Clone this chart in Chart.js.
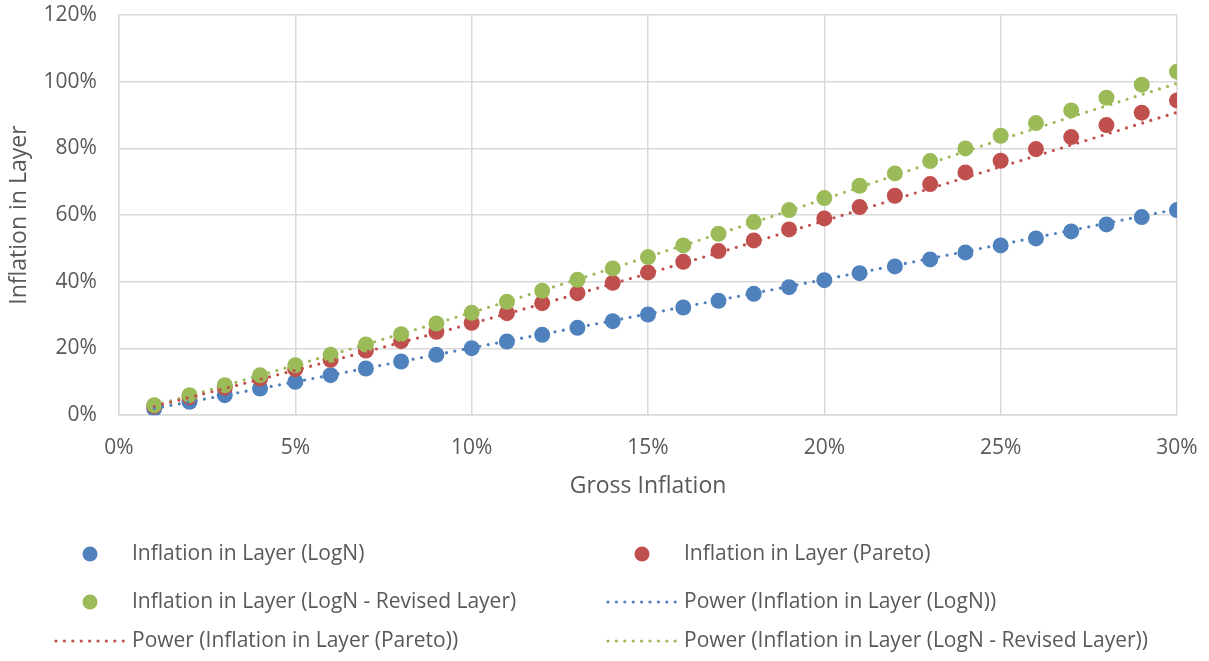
<!DOCTYPE html>
<html>
<head>
<meta charset="utf-8">
<script src="https://cdn.jsdelivr.net/npm/chart.js@4"></script>
<style>
  html, body { margin: 0; padding: 0; background: #fff; }
  #wrap { width: 1209px; height: 661px; position: relative; }
</style>
</head>
<body>
<div id="wrap"><canvas id="myChart"></canvas></div>
<script>
// gross inflation (%) for the dots
var grossX = [1,2,3,4,5,6,7,8,9,10,11,12,13,14,15,16,17,18,19,20,21,22,23,24,25,26,27,28,29,30];

var logN = [2.0,4.0,6.0,8.0,10.0,12.0,14.0,16.1,18.1,20.1,22.1,24.1,26.2,28.2,30.2,
            32.3,34.3,36.4,38.4,40.5,42.6,44.6,46.7,48.8,50.9,53.0,55.1,57.2,59.4,61.5];
var pareto = [2.7,5.4,8.2,11.0,13.8,16.6,19.4,22.2,25.0,27.7,30.6,33.6,36.6,39.7,42.8,
              46.0,49.2,52.4,55.7,59.0,62.4,65.8,69.3,72.8,76.3,79.8,83.4,87.0,90.7,94.4];
var logNRevised = [3.0,6.0,9.0,12.0,15.0,18.1,21.2,24.3,27.5,30.7,34.0,37.3,40.6,44.0,47.4,
                   50.9,54.4,57.9,61.5,65.1,68.8,72.5,76.2,80.0,83.8,87.6,91.4,95.2,99.1,103.0];

// power trendlines
var trendX = [1,5,10,15,20,25,30];
var trendLogN = [2.0,10.0,20.2,30.4,40.7,51.2,61.8];
var trendPareto = [2.6,13.5,27.5,42.5,58.3,74.5,90.8];
var trendRevised = [2.9,15.0,30.8,47.5,64.8,82.6,99.5];

var xTicks = [0,5,10,15,20,25,30];
var yTicks = [0,20,40,60,80,100,120];

var names = ["Inflation in Layer (LogN)", "Inflation in Layer (Pareto)",
             "Inflation in Layer (LogN - Revised Layer)"];
var colors = ["#4f81bd", "#c0504d", "#9bbb59"];

var FONT = '"Open Sans", sans-serif';

function pts(xs, ys) {
  var out = [];
  for (var i = 0; i < xs.length; i++) out.push({x: xs[i], y: ys[i]});
  return out;
}

function dotSet(i, ys, ord) {
  return {
    type: "scatter",
    label: names[i],
    data: pts(grossX, ys),
    backgroundColor: colors[i],
    borderColor: colors[i],
    pointRadius: 8,
    pointHoverRadius: 8,
    borderWidth: 0,
    order: ord
  };
}

function trendSet(i, ys) {
  return {
    type: "line",
    label: "Power (" + names[i] + ")",
    data: pts(trendX, ys),
    borderColor: colors[i],
    backgroundColor: colors[i],
    borderWidth: 3.2,
    borderDash: [0, 8.5],
    borderCapStyle: "round",
    pointRadius: 0,
    cubicInterpolationMode: "monotone",
    fill: false,
    order: 0
  };
}

// legend drawn in two columns below the axes
var gridLegend = {
  id: "gridLegend",
  afterDraw: function(chart) {
    var ctx = chart.ctx;
    var items = [
      {kind: "dot", c: 0, text: names[0], col: 0, row: 0},
      {kind: "dot", c: 1, text: names[1], col: 1, row: 0},
      {kind: "dot", c: 2, text: names[2], col: 0, row: 1},
      {kind: "line", c: 0, text: "Power (" + names[0] + ")", col: 1, row: 1},
      {kind: "line", c: 1, text: "Power (" + names[1] + ")", col: 0, row: 2},
      {kind: "line", c: 2, text: "Power (" + names[2] + ")", col: 1, row: 2}
    ];
    var rowY = [554, 602, 641];
    var colX = [132, 684];
    ctx.save();
    ctx.font = "21px " + FONT;
    ctx.textBaseline = "middle";
    items.forEach(function(it) {
      var tx = colX[it.col], ty = rowY[it.row];
      ctx.fillStyle = colors[it.c];
      if (it.kind === "dot") {
        ctx.beginPath();
        ctx.arc(tx - 42, ty, 7.5, 0, Math.PI * 2);
        ctx.fill();
      } else {
        for (var x = tx - 76; x <= tx - 6; x += 8.4) {
          ctx.beginPath();
          ctx.arc(x, ty, 1.6, 0, Math.PI * 2);
          ctx.fill();
        }
      }
      ctx.fillStyle = "#595959";
      ctx.fillText(it.text, tx, ty);
    });
    ctx.restore();
  }
};

new Chart("myChart", {
  data: {
    datasets: [
      trendSet(0, trendLogN),
      trendSet(1, trendPareto),
      trendSet(2, trendRevised),
      dotSet(0, logN, 3),
      dotSet(1, pareto, 2),
      dotSet(2, logNRevised, 1)
    ]
  },
  options: {
    responsive: true,
    maintainAspectRatio: false,
    animation: false,
    layout: { padding: { top: 0, right: 0, bottom: 161, left: 6 } },
    plugins: {
      legend: { display: false },
      tooltip: { enabled: false }
    },
    scales: {
      x: {
        type: "linear",
        min: 0, max: 30,
        afterBuildTicks: function(ax) { ax.ticks = xTicks.map(function(v) { return {value: v}; }); },
        afterFit: function(s) { s.paddingRight = 32; s.paddingLeft = 0; },
        ticks: {
          font: {family: FONT, size: 21},
          color: "#595959",
          padding: 20,
          callback: function(v) { return v + "%"; }
        },
        grid: { color: "#d9d9d9", lineWidth: 1.5, drawTicks: false },
        border: { color: "#d9d9d9", width: 1.5 },
        title: {
          display: true, text: "Gross Inflation",
          font: {family: FONT, size: 23}, color: "#595959",
          padding: {top: -8, bottom: 0}
        }
      },
      y: {
        type: "linear",
        min: 0, max: 120,
        afterBuildTicks: function(ax) { ax.ticks = yTicks.map(function(v) { return {value: v}; }); },
        afterFit: function(s) { s.paddingTop = 15; s.paddingBottom = 0; },
        ticks: {
          font: {family: FONT, size: 21},
          color: "#595959",
          padding: 22,
          callback: function(v) { return v + "%"; }
        },
        grid: { color: "#d9d9d9", lineWidth: 1.5, drawTicks: false },
        border: { color: "#d9d9d9", width: 1.5 },
        title: {
          display: true, text: "Inflation in Layer",
          font: {family: FONT, size: 23}, color: "#595959",
          padding: {top: 0, bottom: -12}
        }
      }
    }
  },
  plugins: [gridLegend]
});
</script>
</body>
</html>
